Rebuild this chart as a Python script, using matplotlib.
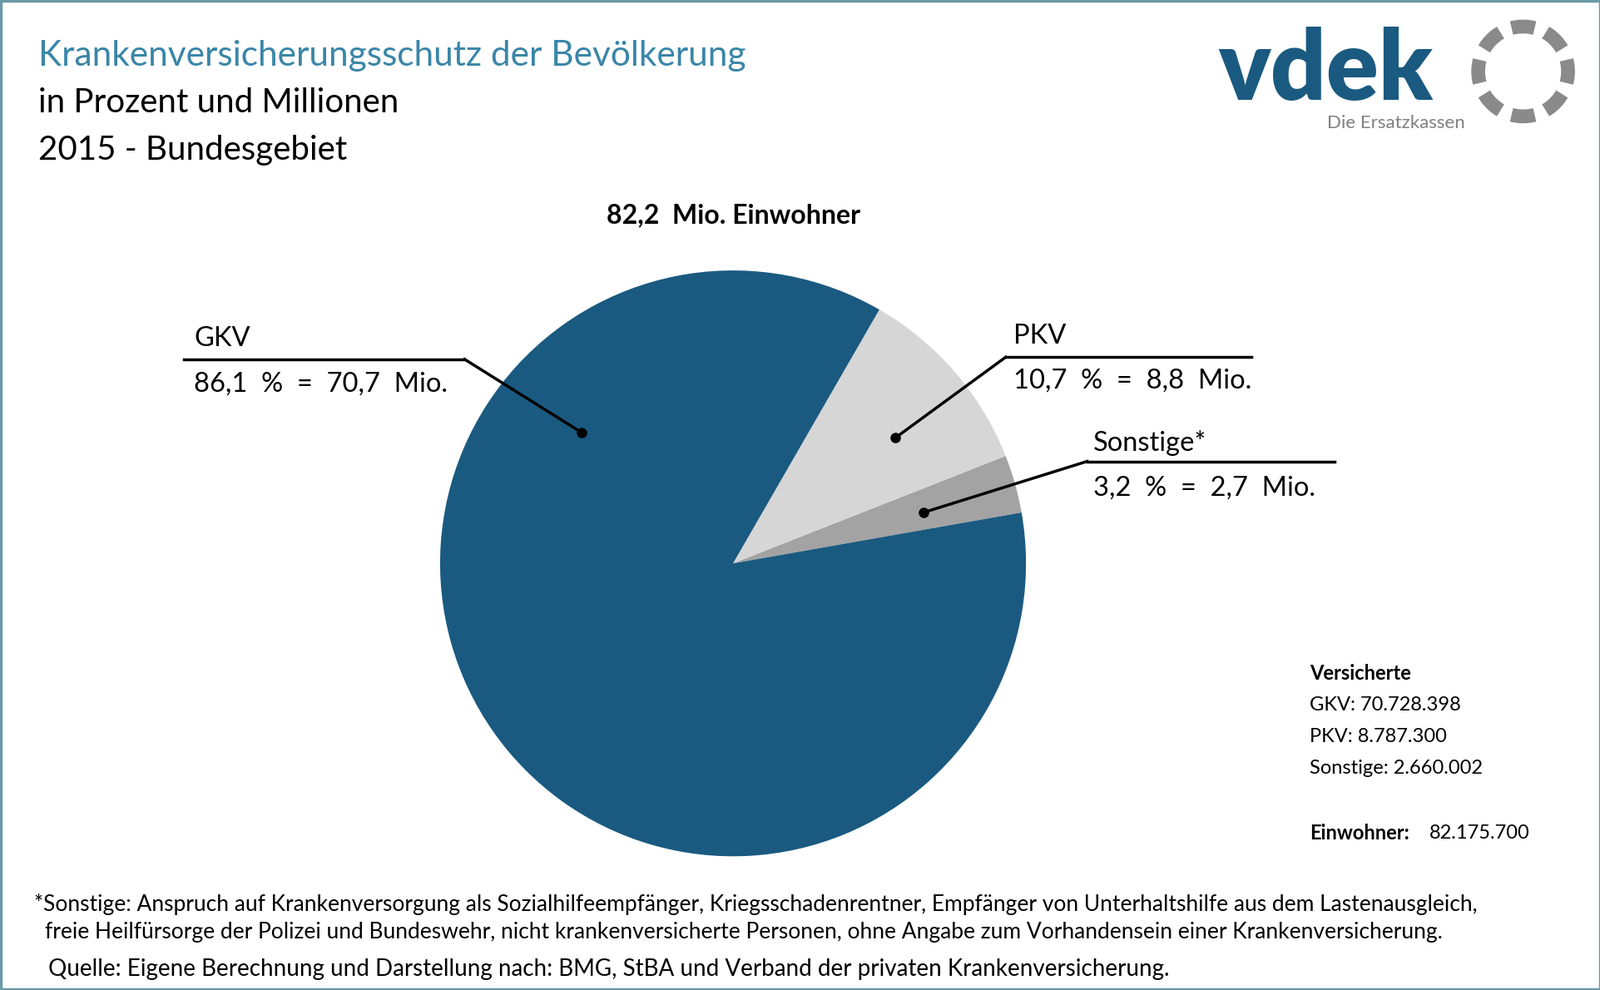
import numpy as np
import matplotlib.pyplot as plt
from matplotlib.patches import Rectangle

labels = ['Sonstige*', 'PKV', 'GKV']
percent = [3.2, 10.7, 86.1]
mio = ['2,7', '8,8', '70,7']
colors = ['#a3a3a3', '#d6d6d6', '#1a5a80']
versicherte = [('GKV', '70.728.398'), ('PKV', '8.787.300'), ('Sonstige', '2.660.002')]
einwohner = '82.175.700'

FONT = 'Lato'
fig = plt.figure(figsize=(19.24, 11.90), dpi=100)
ax = fig.add_axes([0, 0, 1, 1])
ax.set_xlim(0, 1568)
ax.set_ylim(970, 0)
ax.set_aspect('equal')
ax.axis('off')

ax.add_patch(Rectangle((1, 1), 1566, 968, fill=False, edgecolor='#6a9aa6', linewidth=2.5))

# pie (y inverted, so reverse direction)
ax.pie(percent, colors=colors, center=(718, 552), radius=287, startangle=-10,
       counterclock=False, wedgeprops=dict(linewidth=0))
ax.set_xlim(0, 1568)
ax.set_ylim(970, 0)

ax.text(37, 55, 'Krankenversicherungsschutz der Bevölkerung', fontsize=30.5, color='#3a86a8',
        family=FONT, va='center')
ax.text(37, 101, 'in Prozent und Millionen', fontsize=29, family=FONT, va='center')
ax.text(37, 147, '2015 - Bundesgebiet', fontsize=29, family=FONT, va='center')
ax.text(718, 211, '82,2  Mio. Einwohner', fontsize=23, family=FONT, weight='bold', ha='center', va='center')

# labels with leader lines
lbl = {
    'GKV': dict(txt=(190, 332), hl=(180, 455, 352), dot=(570, 424)),
    'PKV': dict(txt=(993, 329), hl=(985, 1226, 350), dot=(877, 429), start=(985, 350)),
    'Sonstige*': dict(txt=(1071, 434), hl=(1065, 1307, 452), dot=(905, 502), start=(1065, 452)),
}
for name, p, m in zip(labels, percent, mio):
    d = lbl[name]
    x0, x1, y = d['hl']
    ax.plot([x0, x1], [y, y], color='black', lw=2.5)
    s = d.get('start', (x1, y))
    ax.plot([s[0], d['dot'][0]], [s[1], d['dot'][1]], color='black', lw=2.5)
    ax.plot(*d['dot'], 'o', color='black', ms=8)
    ax.text(d['txt'][0], d['txt'][1], name, fontsize=23.5, family=FONT, va='center')
    ax.text(d['txt'][0], d['txt'][1] + 44, '%s  %%  =  %s  Mio.' % (('%.1f' % p).replace('.', ','), m),
            fontsize=23.5, family=FONT, va='center')

# Versicherte box
ax.text(1283, 660, 'Versicherte', fontsize=17, family=FONT, weight='bold', va='center')
for i, (k, v) in enumerate(versicherte):
    ax.text(1283, 691 + 31 * i, '%s: %s' % (k, v), fontsize=17, family=FONT, va='center')
ax.text(1283, 816, 'Einwohner:', fontsize=17, family=FONT, weight='bold', va='center')
ax.text(1400, 816, einwohner, fontsize=17, family=FONT, va='center')

# footnotes
ax.text(33, 886, '*Sonstige: Anspruch auf Krankenversorgung als Sozialhilfeempfänger, Kriegsschadenrentner, '
        'Empfänger von Unterhaltshilfe aus dem Lastenausgleich,', fontsize=19, family=FONT, va='center')
ax.text(44, 913, 'freie Heilfürsorge der Polizei und Bundeswehr, nicht krankenversicherte Personen, '
        'ohne Angabe zum Vorhandensein einer Krankenversicherung.', fontsize=19, family=FONT, va='center')
ax.text(47, 950, 'Quelle: Eigene Berechnung und Darstellung nach: BMG, StBA und Verband der privaten Krankenversicherung.',
        fontsize=20, family=FONT, va='center')

# logo
ax.text(1193, 70, 'vdek', fontsize=84, family=FONT, weight='black', color='#1a5a80', va='center')
ax.text(1300, 121, 'Die Ersatzkassen', fontsize=16, family=FONT, color='#808080', va='center')
for a in np.arange(0, 360, 45):
    t = np.radians(a)
    cx, cy, r = 1492, 70, 44
    ang = np.linspace(t - 0.26, t + 0.26, 10)
    ax.plot(cx + r * np.cos(ang), cy + r * np.sin(ang), color='#8a8a8a', lw=12, solid_capstyle='butt')

fig.savefig('out.png', dpi=100)
